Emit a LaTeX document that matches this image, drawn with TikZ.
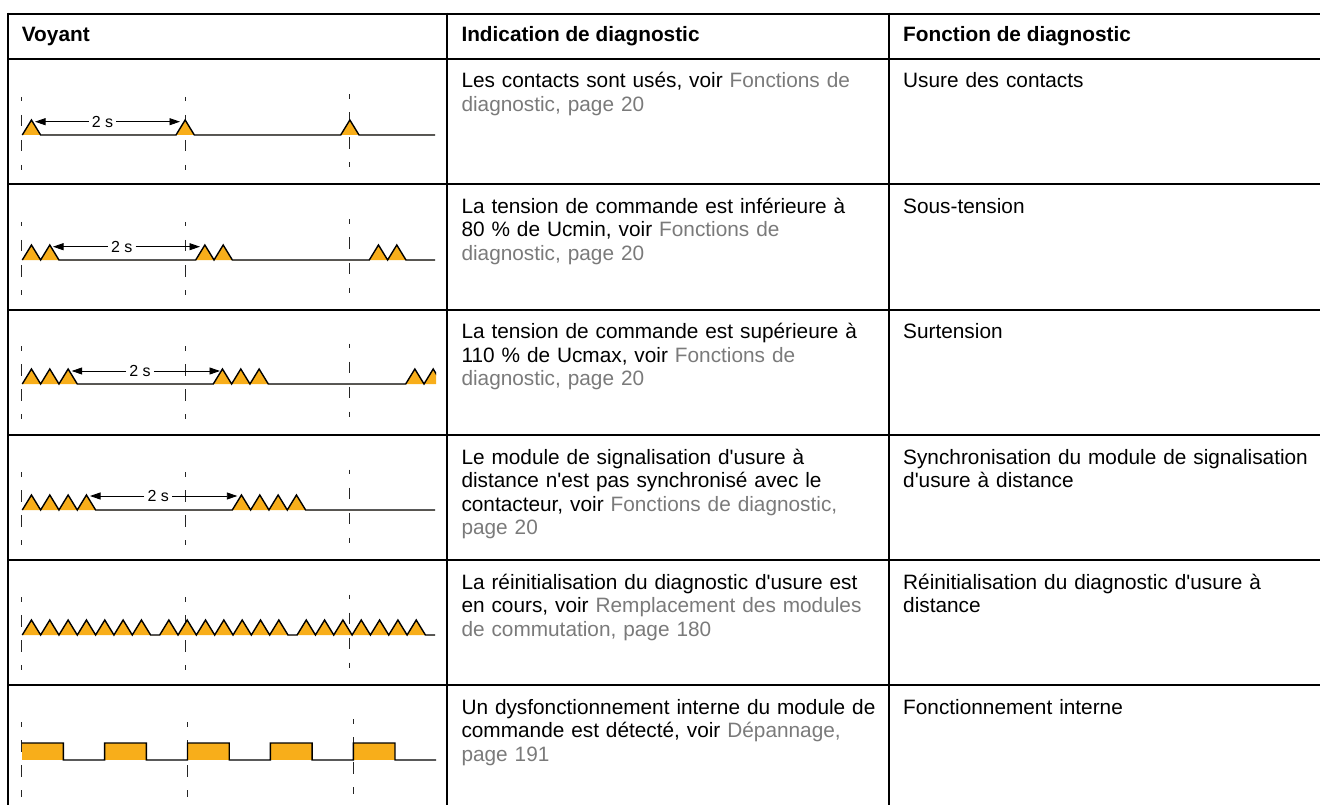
\documentclass[tikz,border=0pt]{standalone}
\usepackage{fontspec}
\setmainfont{Liberation Sans}
\usepackage{xcolor}
\usetikzlibrary{arrows.meta}
\definecolor{ambre}{HTML}{F8AE1A}
\definecolor{lien}{HTML}{7A7A7A}
\newcommand{\lien}[1]{\textcolor{lien}{#1}}
\newcommand{\ap}{\textquotesingle}
\newcommand{\salve}[3]{-- (#1,#3) foreach \k in {1,...,#2}{ -- ({#1+(\k-0.5)*18.33},#3-15) -- ({#1+\k*18.33},#3)}}

\begin{document}
\begin{tikzpicture}[x=1pt,y=-1pt,
		cell/.style={anchor=base west,inner sep=0pt,text width=#1,align=left,font=\fontsize{20.8}{23.5}\selectfont},
		cell/.default=420pt,
		tete/.style={anchor=base west,inner sep=0pt,font=\fontsize{20.8}{23.5}\selectfont\bfseries},
		grille/.style={line width=2pt},
		repere/.style={line width=0.85pt,black!85,dash pattern=on 11.5pt off 13.5pt,dash phase=7pt},
		onde/.style={line width=1.4pt,fill=ambre},
		duree/.style={fill=white,inner xsep=3pt,inner ysep=1pt,font=\fontsize{16}{18}\selectfont},
		fleche/.style={line width=0.9pt,-{Triangle[length=10.5pt,width=7pt]}}
		]
		\useasboundingbox (0,0) rectangle (1320,805);
		\foreach \y in {13.7,58.7,184.3,309.5,435,560,685}
			\draw[grille] (7,\y) -- (1321,\y);
		\foreach \x in {8,447.3,889}
			\draw[grille] (\x,12.7) -- (\x,806);

		\foreach \yb in {135,260,384,510,635}
			\foreach \x/\s in {21.7/0,185/0,349/2.5}
				\draw[repere] (\x,\yb-38-\s) -- (\x,\yb+35-\s);
		\foreach \x/\s in {21.7/0,187.7/0,353.3/3}
			\draw[repere] (\x,722-\s) -- (\x,797-\s);

		\draw[onde] (22.3,135) \salve{22.3}{1}{135} \salve{176}{1}{135} \salve{340.7}{1}{135} -- (435,135);
		\draw[onde] (22.3,260) \salve{22.3}{2}{260} \salve{195.7}{2}{260} \salve{369.3}{2}{260} -- (435,260);
		\begin{scope}
			\clip (0,320) rectangle (436,420);
			\draw[onde] (22.3,384) \salve{22.3}{3}{384} \salve{213.3}{3}{384} \salve{405.7}{3}{384};
		\end{scope}
		\draw[onde] (22.3,510) \salve{22.3}{4}{510} \salve{232.3}{4}{510} -- (435,510);
		\draw[onde] (22.3,635) \salve{22.3}{7}{635} \salve{159.7}{7}{635} \salve{297.1}{7}{635} -- (435,635);
		\foreach \i in {0,...,4}
			\fill[ambre] ({21.7+\i*82.9},743) rectangle ++(41.7,17);
		\draw[onde,fill=none] (21.7,743) foreach \i in {0,...,4}{
			-- ({21.7+\i*82.9},743) -- ({63.4+\i*82.9},743) -- ({63.4+\i*82.9},760) -- ({104.6+\i*82.9},760)};

		\foreach \n/\y/\l/\xa/\xb in {1/121.7/102.5/35/180,2/246.7/121.7/53/200,3/371/140/71.7/220,4/496/158.3/90/237.3}{
			\node[duree] (d\n) at (\l,\y) {2 s};
			\coordinate (g\n) at (\xa,\y);
			\coordinate (h\n) at (\xb,\y);
			\draw[fleche] (d\n) -- (g\n);
			\draw[fleche] (d\n) -- (h\n);
		}

		\node[tete] (hv) at (21.7,41.7) {Voyant};
		\node[tete] (hi) at (461.3,41.7) {Indication de diagnostic};
		\node[tete] (hf) at (903,41.7) {Fonction de diagnostic};

		\node[cell] (i1) at (461.3,87.7) {Les contacts sont usés, voir \lien{Fonctions de}\\\lien{diagnostic, page 20}};
		\node[cell] (i2) at (461.3,213.3) {La tension de commande est inférieure à\\80~\% de Ucmin, voir \lien{Fonctions de}\\\lien{diagnostic, page 20}};
		\node[cell] (i3) at (461.3,338.5) {La tension de commande est supérieure à\\110~\% de Ucmax, voir \lien{Fonctions de}\\\lien{diagnostic, page 20}};
		\node[cell] (i4) at (461.3,464) {Le module de signalisation d\ap{}usure à\\distance n\ap{}est pas synchronisé avec le\\contacteur, voir \lien{Fonctions de diagnostic,}\\\lien{page 20}};
		\node[cell] (i5) at (461.3,589) {La réinitialisation du diagnostic d\ap{}usure est\\en cours, voir \lien{Remplacement des modules}\\\lien{de commutation, page 180}};
		\node[cell] (i6) at (461.3,714) {Un dysfonctionnement interne du module de\\commande est détecté, voir \lien{Dépannage,}\\\lien{page 191}};

		\node[cell=410pt] (f1) at (903,87.7) {Usure des contacts};
		\node[cell=410pt] (f2) at (903,213.3) {Sous-tension};
		\node[cell=410pt] (f3) at (903,338.5) {Surtension};
		\node[cell=410pt] (f4) at (903,464) {Synchronisation du module de signalisation\\d\ap{}usure à distance};
		\node[cell=410pt] (f5) at (903,589) {Réinitialisation du diagnostic d\ap{}usure à\\distance};
		\node[cell=410pt] (f6) at (903,714) {Fonctionnement interne};
	\end{tikzpicture}
\end{document}
